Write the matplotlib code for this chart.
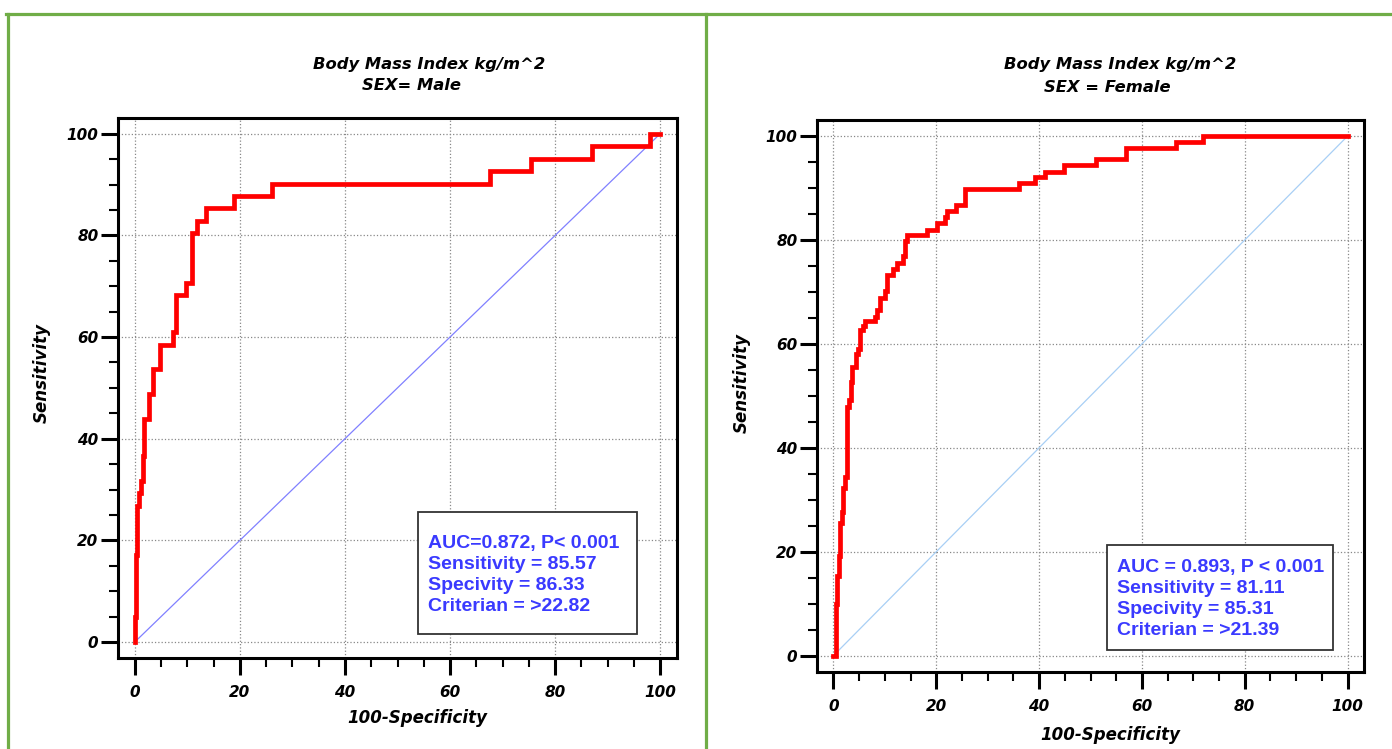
import matplotlib
matplotlib.use("Agg")
import matplotlib.pyplot as plt
from matplotlib.patches import Rectangle
from matplotlib.lines import Line2D
from matplotlib.ticker import MultipleLocator

plt.rcParams['font.family'] = ['Liberation Sans', 'DejaVu Sans']

# ROC staircase, male (100-specificity, sensitivity)
male_fpr = [0, 0, 0.2, 0.5, 0.8, 1.1, 1.5, 1.8, 2.7, 3.4, 4.8, 7.2, 7.8, 9.7, 10.8,
            11.8, 13.6, 18.8, 26.1, 67.6, 75.4, 87.1, 98.0, 100]
male_tpr = [0, 4.9, 17.1, 26.8, 29.3, 31.7, 36.6, 43.9, 48.8, 53.7, 58.5, 61.0, 68.3,
            70.7, 80.5, 82.9, 85.4, 87.8, 90.2, 92.7, 95.1, 97.6, 100, 100]

# ROC staircase, female
female_fpr = [0, 0.45, 0.78, 1.1, 1.3, 1.75, 1.94, 2.27, 2.72, 3.04, 3.37, 3.69, 4.34,
              4.85, 5.18, 5.7, 6.15, 8.1, 8.4, 9.06, 10.0, 10.5, 11.65, 12.3, 13.6,
              13.9, 14.4, 18.1, 20.1, 21.7, 22.1, 23.8, 25.6, 36.1, 39.2, 41.1, 44.8,
              51.1, 57.0, 66.6, 71.8, 100]
female_tpr = [0, 10.0, 15.4, 19.1, 25.5, 27.6, 32.3, 34.3, 47.8, 49.2, 52.6, 55.6, 58.0,
              59.0, 62.7, 63.4, 64.4, 65.1, 66.5, 68.8, 70.1, 73.2, 74.5, 75.5, 76.9,
              79.9, 81.0, 82.0, 83.2, 84.4, 85.6, 86.8, 89.9, 90.9, 92.2, 93.1, 94.5,
              95.5, 97.8, 98.9, 100, 100]

male_stats = ["AUC=0.872, P< 0.001", "Sensitivity = 85.57",
              "Specivity = 86.33", "Criterian = >22.82"]
female_stats = ["AUC = 0.893, P < 0.001", "Sensitivity = 81.11",
                "Specivity = 85.31", "Criterian = >21.39"]

W, H = 1392, 749
fig = plt.figure(figsize=(W / 100, H / 100), dpi=100)

# green frame
green = '#70ad47'
fig.add_artist(Line2D([6 / W, 1], [1 - 14 / H, 1 - 14 / H], color=green, lw=2.3,
                      transform=fig.transFigure))
fig.add_artist(Line2D([8 / W, 8 / W], [0, 1 - 14 / H], color=green, lw=2.3,
                      transform=fig.transFigure))
fig.add_artist(Line2D([706 / W, 706 / W], [0, 1 - 14 / H], color=green, lw=2.3,
                      transform=fig.transFigure))

heavy = dict(family=['DejaVu Sans'], fontweight='bold', fontstyle='italic')


def roc_panel(rect, fpr, tpr, diag_color, stats, box, text_xy, sex_title,
              title_x, title_y, xlabel_pos, ylabel_pos):
    ax = fig.add_axes(rect)
    ax.plot([0, 100], [0, 100], color=diag_color, lw=0.9, zorder=2)
    ax.plot(fpr, tpr, color='#ff0000', lw=3.4, drawstyle='steps-post', zorder=3,
            solid_joinstyle='miter')
    ax.set_xlim(-3.2, 103.2)
    ax.set_ylim(-3.15, 103.1)
    ax.xaxis.set_major_locator(MultipleLocator(20))
    ax.yaxis.set_major_locator(MultipleLocator(20))
    ax.xaxis.set_minor_locator(MultipleLocator(5))
    ax.yaxis.set_minor_locator(MultipleLocator(5))
    ax.tick_params(which='major', length=12.5, width=2.2, direction='out')
    ax.tick_params(which='minor', length=6.5, width=1.5, direction='out')
    ax.tick_params(axis='x', which='major', pad=7)
    ax.tick_params(axis='y', which='major', pad=1.5)
    ax.tick_params(top=False, right=False, which='both')
    for lab in ax.get_xticklabels() + ax.get_yticklabels():
        lab.set_fontfamily(['DejaVu Sans'])
        lab.set_fontsize(11)
        lab.set_fontweight('bold')
        lab.set_fontstyle('italic')
    for s in ax.spines.values():
        s.set_linewidth(2.2)
    ax.grid(True, which='major', color='#888888', linestyle=':', lw=0.9)
    ax.set_axisbelow(True)

    x0, y0, x1, y1 = box
    ax.add_patch(Rectangle((x0, y0), x1 - x0, y1 - y0, facecolor='white',
                           edgecolor='#333333', lw=1.3, zorder=4))
    ax.text(text_xy[0], text_xy[1], "\n".join(stats), color='#3a3aff', fontsize=14,
            fontweight='bold', va='top', ha='left', linespacing=1.31, zorder=5)

    fig.text(title_x[0] / W, 1 - title_y[0] / H, "Body Mass Index kg/m^2",
             ha='center', va='center', fontsize=11.8, **heavy)
    fig.text(title_x[1] / W, 1 - title_y[1] / H, sex_title,
             ha='center', va='center', fontsize=11.8, **heavy)
    fig.text(xlabel_pos[0] / W, 1 - xlabel_pos[1] / H, "100-Specificity",
             ha='center', va='center', fontsize=12, **heavy)
    fig.text(ylabel_pos[0] / W, 1 - ylabel_pos[1] / H, "Sensitivity", rotation=90,
             ha='center', va='center', fontsize=12, **heavy)
    return ax


roc_panel([118 / W, 1 - 658 / H, 559 / W, 540 / H], male_fpr, male_tpr, '#8080ff',
          male_stats, (53.9, 1.6, 95.6, 25.6), (55.8, 21.0), "SEX= Male",
          (429, 411), (64, 86), (417, 718), (42, 373))

roc_panel([817 / W, 1 - 672 / H, 547 / W, 552 / H], female_fpr, female_tpr, '#a8cff5',
          female_stats, (53.2, 1.15, 97.2, 21.3), (55.1, 18.55), "SEX = Female",
          (1120, 1107), (65, 87), (1110, 735), (742, 383))

fig.savefig("out.png", dpi=100)
